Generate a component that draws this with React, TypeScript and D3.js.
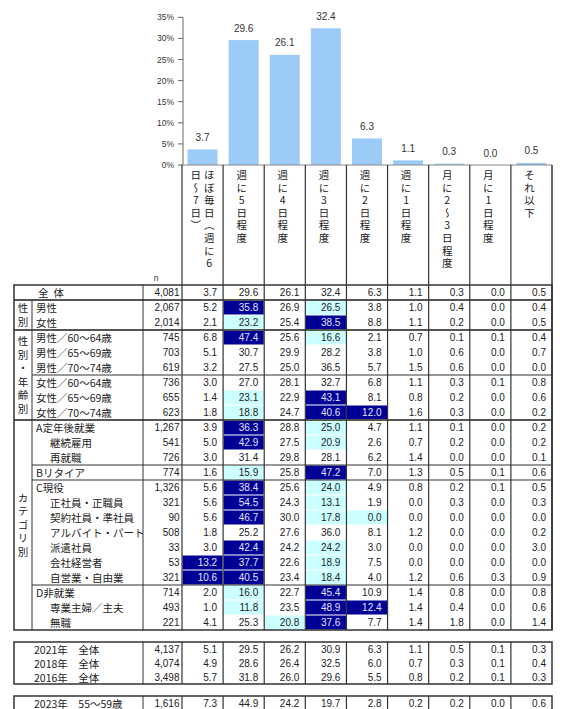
import React from "react";
import * as d3 from "d3";

const categories = [
  "ほぼ毎日（週に6日～7日）",
  "週に5日程度",
  "週に4日程度",
  "週に3日程度",
  "週に2日程度",
  "週に1日程度",
  "月に2～3日程度",
  "月に1日程度",
  "それ以下",
];
const overallValues = [3.7, 29.6, 26.1, 32.4, 6.3, 1.1, 0.3, 0.0, 0.5];
const yTicks = [0, 5, 10, 15, 20, 25, 30, 35];

const rowLabels = [
  "全体", "男性", "女性",
  "男性／60～64歳", "男性／65～69歳", "男性／70～74歳",
  "女性／60～64歳", "女性／65～69歳", "女性／70～74歳",
  "A定年後就業", "継続雇用", "再就職", "Bリタイア",
  "C現役", "正社員・正職員", "契約社員・準社員", "アルバイト・パート",
  "派遣社員", "会社経営者", "自営業・自由業",
  "D非就業", "専業主婦／主夫", "無職",
];
const rowLevels = [0, 0, 0, 0, 0, 0, 0, 0, 0, 0, 1, 1, 0, 0, 1, 1, 1, 1, 1, 1, 0, 1, 1];
const rowN = [4081, 2067, 2014, 745, 703, 619, 736, 655, 623, 1267, 541, 726, 774, 1326, 321, 90, 508, 33, 53, 321, 714, 493, 221];
const rowValues = [
  [3.7, 29.6, 26.1, 32.4, 6.3, 1.1, 0.3, 0.0, 0.5],
  [5.2, 35.8, 26.9, 26.5, 3.8, 1.0, 0.4, 0.0, 0.4],
  [2.1, 23.2, 25.4, 38.5, 8.8, 1.1, 0.2, 0.0, 0.5],
  [6.8, 47.4, 25.6, 16.6, 2.1, 0.7, 0.1, 0.1, 0.4],
  [5.1, 30.7, 29.9, 28.2, 3.8, 1.0, 0.6, 0.0, 0.7],
  [3.2, 27.5, 25.0, 36.5, 5.7, 1.5, 0.6, 0.0, 0.0],
  [3.0, 27.0, 28.1, 32.7, 6.8, 1.1, 0.3, 0.1, 0.8],
  [1.4, 23.1, 22.9, 43.1, 8.1, 0.8, 0.2, 0.0, 0.6],
  [1.8, 18.8, 24.7, 40.6, 12.0, 1.6, 0.3, 0.0, 0.2],
  [3.9, 36.3, 28.8, 25.0, 4.7, 1.1, 0.1, 0.0, 0.2],
  [5.0, 42.9, 27.5, 20.9, 2.6, 0.7, 0.2, 0.0, 0.2],
  [3.0, 31.4, 29.8, 28.1, 6.2, 1.4, 0.0, 0.0, 0.1],
  [1.6, 15.9, 25.8, 47.2, 7.0, 1.3, 0.5, 0.1, 0.6],
  [5.6, 38.4, 25.6, 24.0, 4.9, 0.8, 0.2, 0.1, 0.5],
  [5.6, 54.5, 24.3, 13.1, 1.9, 0.0, 0.3, 0.0, 0.3],
  [5.6, 46.7, 30.0, 17.8, 0.0, 0.0, 0.0, 0.0, 0.0],
  [1.8, 25.2, 27.6, 36.0, 8.1, 1.2, 0.0, 0.0, 0.2],
  [3.0, 42.4, 24.2, 24.2, 3.0, 0.0, 0.0, 0.0, 3.0],
  [13.2, 37.7, 22.6, 18.9, 7.5, 0.0, 0.0, 0.0, 0.0],
  [10.6, 40.5, 23.4, 18.4, 4.0, 1.2, 0.6, 0.3, 0.9],
  [2.0, 16.0, 22.7, 45.4, 10.9, 1.4, 0.8, 0.0, 0.8],
  [1.0, 11.8, 23.5, 48.9, 12.4, 1.4, 0.4, 0.0, 0.6],
  [4.1, 25.3, 20.8, 37.6, 7.7, 1.4, 1.8, 0.0, 1.4],
];
// D = well above overall, L = well below overall
const rowMarks = [
  "---------", "-D-L-----", "-L-D-----",
  "-D-L-----", "---------", "---------",
  "---------", "-L-D-----", "-L-DD----",
  "-D-L-----", "-D-L-----", "---------", "-L-D-----",
  "-D-L-----", "-D-L-----", "-D-LL----", "---------",
  "-D-L-----", "DD-L-----", "DD-L-----",
  "-L-D-----", "-L-DD----", "--LD-----",
];
const groupLabels = ["", "性別", "性別・年齢別", "カテゴリ別"];
const groupSizes = [1, 2, 6, 14];
const subBreaks = [5, 11, 12, 19];

const trendLabels = ["2021年　全体", "2018年　全体", "2016年　全体"];
const trendN = [4137, 4074, 3498];
const trendValues = [
  [5.1, 29.5, 26.2, 30.9, 6.3, 1.1, 0.5, 0.1, 0.3],
  [4.9, 28.6, 26.4, 32.5, 6.0, 0.7, 0.3, 0.1, 0.4],
  [5.7, 31.8, 26.0, 29.6, 5.5, 0.8, 0.2, 0.1, 0.3],
];
const extraLabels = ["2023年　55～59歳"];
const extraN = [1616];
const extraValues = [[7.3, 44.9, 24.2, 19.7, 2.8, 0.2, 0.2, 0.0, 0.6]];

const JP = "'Noto Sans CJK JP', sans-serif";
const NUM = "'Liberation Sans', Arial, sans-serif";
const DARK = "#000096";
const LIGHT = "#ccffff";
const LINE = "#333";
const TXT = "#222";

const W = 563;
const H = 709;
const X0 = 14, X1 = 32, X2 = 143, X3 = 182, XR = 552;
const TABLE_TOP = 285;
const ROW_H = 15;
const TREND_TOP = 642;
const TREND_H = 14;
const EXTRA_TOP = 696;

const fmtN = d3.format(",");
const fmtV = d3.format(".1f");

// vertical (tategaki) text: one text element per column
function vText(str: string, x: number, firstCenterY: number, pitch: number, key: string, size = 10.5) {
  return (
    <text
      key={key}
      x={x}
      y={firstCenterY - size / 2}
      fontFamily={JP}
      fontSize={size}
      fill={TXT}
      letterSpacing={pitch - size}
      style={{ writingMode: "vertical-rl", textOrientation: "upright" } as any}
    >
      {str}
    </text>
  );
}

export default function App() {
  const idx = d3.range(categories.length);
  const col = d3.scaleBand<number>().domain(idx).range([X3, XR]);
  const bar = d3.scaleBand<number>().domain(idx).range([X3, XR]).paddingInner(0.27).paddingOuter(0.135);
  const y = d3.scaleLinear().domain([0, 35]).range([165, 17.3]);

  const colLeft = (i: number) => col(i)!;
  const colRight = (i: number) => col(i)! + col.bandwidth();

  const els: React.ReactNode[] = [];

  // y axis
  els.push(<line key="yaxis" x1={X3 + 1} x2={X3 + 1} y1={y(35)} y2={y(0)} stroke="#666" strokeWidth={1} />);
  yTicks.forEach((t) => {
    els.push(<line key={`yt${t}`} x1={X3 - 4} x2={X3 + 1} y1={y(t)} y2={y(t)} stroke="#666" strokeWidth={1} />);
    els.push(
      <text key={`yl${t}`} x={174} y={y(t)} textAnchor="end" dominantBaseline="central" fontFamily={NUM} fontSize={8.5} fill="#333">{`${t}%`}</text>
    );
  });

  // bars
  overallValues.forEach((v, i) => {
    els.push(<rect key={`b${i}`} x={bar(i)!} y={y(v)} width={bar.bandwidth()} height={y(0) - y(v)} fill="#9dcbf8" />);
    els.push(
      <text key={`bl${i}`} x={bar(i)! + bar.bandwidth() / 2} y={y(v) - 8.5} textAnchor="middle" fontFamily={NUM} fontSize={10} fill="#333">{fmtV(v)}</text>
    );
  });
  els.push(<line key="xaxis" x1={X3} x2={XR} y1={y(0)} y2={y(0)} stroke="#888" strokeWidth={1.2} />);

  // header vertical text
  categories.forEach((c, i) => {
    const chars = Array.from(c);
    const cx = colLeft(i) + col.bandwidth() / 2;
    if (chars.length > 8) {
      els.push(vText(chars.slice(0, 8).join(""), cx + 6.7, 175, 12.6, `hr${i}`));
      els.push(vText(chars.slice(8).join(""), cx - 6.7, 175, 12.6, `hl${i}`));
    } else {
      els.push(vText(c, cx - 2, 175, 12.6, `h${i}`));
    }
  });
  els.push(<text key="nlab" x={156} y={281} textAnchor="middle" fontFamily={NUM} fontSize={8.5} fill="#333">n</text>);

  // cell highlights (main table)
  const rowTop = (r: number) => TABLE_TOP + r * ROW_H;
  rowMarks.forEach((m, r) => {
    Array.from(m).forEach((c, i) => {
      if (c === "D" || c === "L") {
        els.push(
          <rect key={`hl${r}-${i}`} x={colLeft(i) + 0.5} y={rowTop(r) + 0.5} width={col.bandwidth() - 1} height={ROW_H - 1} fill={c === "D" ? DARK : LIGHT} />
        );
      }
    });
  });

  // main table text
  rowLabels.forEach((lab, r) => {
    const cy = rowTop(r) + ROW_H / 2;
    if (r === 0) {
      els.push(<text key={`rl${r}`} x={38} y={cy} dominantBaseline="central" fontFamily={JP} fontSize={10.5} letterSpacing={5} fill={TXT}>{lab}</text>);
    } else {
      els.push(<text key={`rl${r}`} x={rowLevels[r] ? 50 : 36} y={cy} dominantBaseline="central" fontFamily={JP} fontSize={10.5} fill={TXT}>{lab}</text>);
    }
    els.push(<text key={`rn${r}`} x={X3 - 2.5} y={cy} textAnchor="end" dominantBaseline="central" fontFamily={NUM} fontSize={10} fill={TXT}>{fmtN(rowN[r])}</text>);
    rowValues[r].forEach((v, i) => {
      const dark = rowMarks[r][i] === "D";
      els.push(
        <text key={`rv${r}-${i}`} x={colRight(i) - 6} y={cy} textAnchor="end" dominantBaseline="central" fontFamily={NUM} fontSize={10} fill={dark ? "#e4e4ff" : TXT}>{fmtV(v)}</text>
      );
    });
  });

  // group labels
  let start = 0;
  groupSizes.forEach((size, g) => {
    const label = groupLabels[g];
    if (label) {
      const n = Array.from(label).length;
      const midY = rowTop(start) + (size * ROW_H) / 2;
      const sp = 13.5;
      els.push(vText(label, (X0 + X1) / 2, midY - ((n - 1) / 2) * sp, sp, `g${g}`));
      els.push(<line key={`gv${g}`} x1={X1} x2={X1} y1={rowTop(start)} y2={rowTop(start + size)} stroke={LINE} strokeWidth={1} />);
    }
    start += size;
    if (g < groupSizes.length - 1) {
      els.push(<line key={`gs${g}`} x1={X0} x2={XR} y1={rowTop(start)} y2={rowTop(start)} stroke="#555" strokeWidth={2} />);
    }
  });
  subBreaks.forEach((r) => {
    els.push(<line key={`sb${r}`} x1={X1} x2={XR} y1={rowTop(r + 1)} y2={rowTop(r + 1)} stroke={LINE} strokeWidth={1} />);
  });

  // main table frame & verticals
  const mainBottom = rowTop(rowLabels.length);
  els.push(<rect key="mframe" x={X0} y={TABLE_TOP} width={XR - X0} height={mainBottom - TABLE_TOP} fill="none" stroke={LINE} strokeWidth={1.5} />);
  els.push(<line key="mv2" x1={X2} x2={X2} y1={TABLE_TOP} y2={mainBottom} stroke={LINE} strokeWidth={1} />);
  idx.forEach((i) => {
    els.push(<line key={`cv${i}`} x1={colLeft(i)} x2={colLeft(i)} y1={y(0)} y2={mainBottom} stroke={LINE} strokeWidth={1.2} />);
  });
  els.push(<line key="cvR" x1={XR} x2={XR} y1={y(0)} y2={mainBottom} stroke={LINE} strokeWidth={1.5} />);

  // small tables
  const smallTable = (labels: string[], ns: number[], vals: number[][], top: number, key: string) => {
    const bottom = top + labels.length * TREND_H;
    labels.forEach((lab, r) => {
      const cy = top + r * TREND_H + TREND_H / 2;
      els.push(<text key={`${key}l${r}`} x={34} y={cy} dominantBaseline="central" fontFamily={JP} fontSize={10.5} fill={TXT}>{lab}</text>);
      els.push(<text key={`${key}n${r}`} x={X3 - 2.5} y={cy} textAnchor="end" dominantBaseline="central" fontFamily={NUM} fontSize={10} fill={TXT}>{fmtN(ns[r])}</text>);
      vals[r].forEach((v, i) => {
        els.push(<text key={`${key}v${r}-${i}`} x={colRight(i) - 6} y={cy} textAnchor="end" dominantBaseline="central" fontFamily={NUM} fontSize={10} fill={TXT}>{fmtV(v)}</text>);
      });
    });
    els.push(<rect key={`${key}fr`} x={X0} y={top} width={XR - X0} height={bottom - top} fill="none" stroke={LINE} strokeWidth={1.5} />);
    els.push(<line key={`${key}v2`} x1={X2} x2={X2} y1={top} y2={bottom} stroke={LINE} strokeWidth={1} />);
    idx.forEach((i) => {
      els.push(<line key={`${key}cv${i}`} x1={colLeft(i)} x2={colLeft(i)} y1={top} y2={bottom} stroke={LINE} strokeWidth={1.2} />);
    });
  };
  smallTable(trendLabels, trendN, trendValues, TREND_TOP, "t");
  smallTable(extraLabels, extraN, extraValues, EXTRA_TOP, "e");

  return (
    <svg width={W} height={H} style={{ position: "absolute", left: 0, top: 0, background: "#fff" }}>
      <rect x={0} y={0} width={W} height={H} fill="#fff" />
      {els}
    </svg>
  );
}
